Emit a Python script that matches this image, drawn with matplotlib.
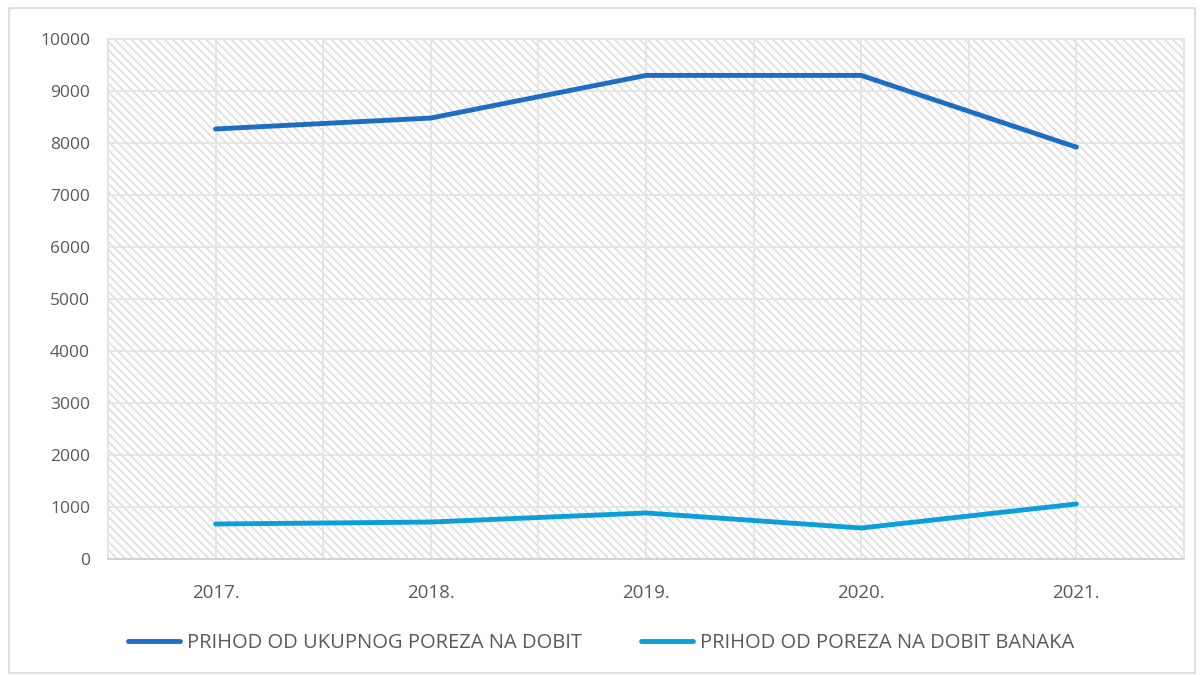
import numpy as np
import matplotlib
matplotlib.use("Agg")
import matplotlib.pyplot as plt
from matplotlib.patches import Rectangle
from matplotlib.ticker import MultipleLocator

years = ["2017.", "2018.", "2019.", "2020.", "2021."]
ukupno = [8270, 8480, 9300, 9300, 7920]
banke = [673, 711, 885, 596, 1058]
labels = ["PRIHOD OD UKUPNOG POREZA NA DOBIT", "PRIHOD OD POREZA NA DOBIT BANAKA"]
colors = ["#1F6DC2", "#0A9FD9"]

plt.rcParams["font.family"] = ["Open Sans", "DejaVu Sans"]
plt.rcParams["hatch.linewidth"] = 1.1

fig = plt.figure(figsize=(12.02, 6.75), dpi=100)
ax = fig.add_axes([108 / 1202, 1 - 559 / 675, 1076 / 1202, 520 / 675])

x = np.arange(len(years))
ax.set_xlim(-0.5, len(years) - 0.5)
ax.set_ylim(0, 10000)

# hatched plot area
ax.add_patch(Rectangle((0, 0), 1, 1, transform=ax.transAxes, facecolor="white",
                       edgecolor="#DCDCDC", linewidth=0, hatch="\\" * 4,
                       zorder=0))

ax.yaxis.set_major_locator(MultipleLocator(1000))
ax.set_xticks(x)
ax.set_xticks(np.arange(-0.5, len(years), 1.0), minor=True)
ax.grid(True, which="major", color="#E4E4E4", linewidth=1.3, zorder=1)
ax.grid(True, which="minor", axis="x", color="#E4E4E4", linewidth=1.3, zorder=1)
ax.set_xticklabels(years)
ax.tick_params(axis="both", which="both", length=0, labelsize=12.5,
               labelcolor="#595959")
ax.tick_params(axis="x", labelsize=13.5, pad=18)
ax.tick_params(axis="y", pad=13)

for s in ax.spines.values():
    s.set_color("#E2E2E2")
    s.set_linewidth(1.3)
ax.spines["bottom"].set_color("#D0D0D0")

ax.plot(x, ukupno, color=colors[0], linewidth=3.5, solid_capstyle="round",
        label=labels[0], zorder=3)
ax.plot(x, banke, color=colors[1], linewidth=3.5, solid_capstyle="round",
        label=labels[1], zorder=3)

leg = fig.legend(loc="center", bbox_to_anchor=(0.5, 1 - 643 / 675), ncol=2,
                 frameon=False, fontsize=14.5, handlelength=2.6,
                 handletextpad=0.35, columnspacing=2.9, labelcolor="#595959")

# outer chart border
fig.add_artist(Rectangle((9 / 1202, 2 / 675), 1186 / 1202, 665 / 675,
                         transform=fig.transFigure, fill=False,
                         edgecolor="#D9D9D9", linewidth=1.2))

fig.savefig("out.png", dpi=100)
